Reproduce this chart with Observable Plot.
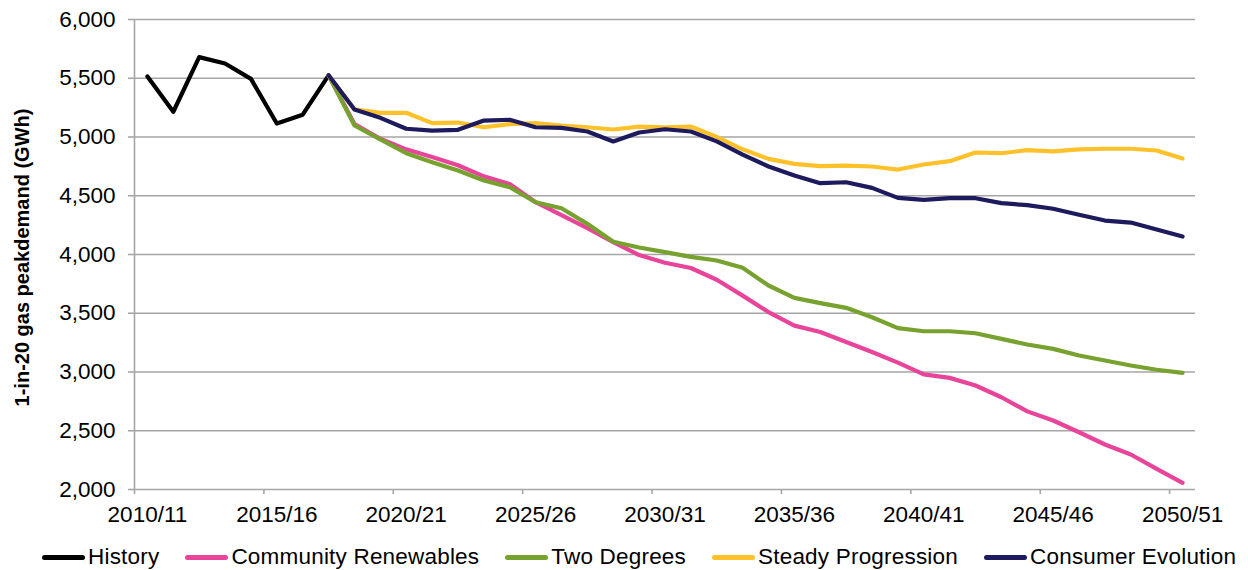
<!DOCTYPE html>
<html><head><meta charset="utf-8">
<script src="https://cdn.jsdelivr.net/npm/d3@7"></script>
<script src="https://cdn.jsdelivr.net/npm/@observablehq/plot@0.6"></script>
<style>
body{margin:0;background:#fff;font-family:"Liberation Sans",Arial,sans-serif;}
#chart{position:relative;width:1248px;height:570px;overflow:hidden}
#legend{position:absolute;left:42px;top:544px;display:flex;align-items:center;gap:26px;font-size:22.5px;letter-spacing:0.2px;line-height:26px;color:#000;white-space:nowrap}
.item{display:flex;align-items:center;}
.sw{width:43px;height:5px;border-radius:2.5px;margin-right:3px}
</style></head><body><div id="chart"></div>
<script>
const categories = ["2010/11","2011/12","2012/13","2013/14","2014/15","2015/16","2016/17","2017/18","2018/19","2019/20",
  "2020/21","2021/22","2022/23","2023/24","2024/25","2025/26","2026/27","2027/28","2028/29","2029/30",
  "2030/31","2031/32","2032/33","2033/34","2034/35","2035/36","2036/37","2037/38","2038/39","2039/40",
  "2040/41","2041/42","2042/43","2043/44","2044/45","2045/46","2046/47","2047/48","2048/49","2049/50","2050/51"];
const tickLabels = ["2010/11","2015/16","2020/21","2025/26","2030/31","2035/36","2040/41","2045/46","2050/51"];
const yTicks = [2000,2500,3000,3500,4000,4500,5000,5500,6000];

const seriesNames = ["History","Community Renewables","Two Degrees","Steady Progression","Consumer Evolution"];
const seriesColors = ["#000000","#E8449A","#77A22F","#FFC12A","#1E1A5E"];

// History: 2010/11 .. 2017/18
const history = [5515,5215,5680,5625,5495,5115,5190,5525];
// Scenarios: 2017/18 .. 2050/51
const communityRenewables = [5525,5110,4985,4895,4830,4760,4665,4600,4445,4335,4225,4105,3995,3930,3885,3785,3650,3510,3395,3340,3255,3170,3080,2980,2950,2885,2785,2665,2587,2487,2383,2298,2176,2057];
const twoDegrees = [5525,5098,4979,4862,4786,4715,4630,4573,4445,4393,4261,4108,4060,4020,3980,3949,3887,3736,3631,3586,3546,3466,3373,3347,3347,3330,3282,3234,3197,3140,3098,3055,3019,2993];
const steadyProgression = [5525,5235,5206,5206,5118,5123,5083,5110,5118,5098,5083,5064,5089,5083,5089,5000,4895,4814,4771,4752,4757,4749,4723,4766,4794,4868,4862,4888,4877,4894,4900,4900,4885,4817];
const consumerEvolution = [5525,5234,5163,5070,5055,5061,5140,5147,5083,5078,5047,4962,5038,5066,5047,4963,4850,4749,4672,4607,4615,4567,4482,4465,4479,4479,4437,4420,4389,4338,4289,4272,4213,4153];

const scenarioStart = categories.indexOf("2017/18");
function rows(values, start, name) {
  return values.map((v, k) => ({i: start + k, cat: categories[start + k], v, name}));
}
const seriesData = [
  rows(history, 0, seriesNames[0]),
  rows(communityRenewables, scenarioStart, seriesNames[1]),
  rows(twoDegrees, scenarioStart, seriesNames[2]),
  rows(steadyProgression, scenarioStart, seriesNames[3]),
  rows(consumerEvolution, scenarioStart, seriesNames[4])
];

const labelIdx = tickLabels.map(l => categories.indexOf(l));
const boundaries = labelIdx.map(i => i - 0.5);
const grid = "#a6a6a6";
const H = 536;

const plot = Plot.plot({
  width: 1248,
  height: H,
  marginLeft: 134,
  marginRight: 53,
  marginTop: 19,
  marginBottom: H - 489,
  style: {fontFamily: "'Liberation Sans', Arial, sans-serif", fontSize: "22px", background: "#fff"},
  x: {type: "linear", domain: [-0.5, categories.length - 0.5]},
  y: {domain: [2000, 6000]},
  marks: [
    Plot.ruleY(yTicks, {stroke: grid, strokeWidth: 1.6}),
    Plot.ruleX([-0.5], {stroke: grid, strokeWidth: 1.6}),
    Plot.axisY({ticks: yTicks, tickSize: 6, tickPadding: 13, tickFormat: d3.format(","), stroke: grid, strokeWidth: 1.6, fill: "#000", fontSize: 22.5, label: null}),
    Plot.axisX({ticks: labelIdx, tickSize: 0, tickPadding: 17, tickFormat: i => categories[i], fill: "#000", fontSize: 22.5, label: null}),
    Plot.axisX({ticks: boundaries, tickSize: 5, tickFormat: () => "", stroke: grid, strokeWidth: 1.6, label: null}),
    ...seriesData.map((d, k) => Plot.lineY(d, {x: "i", y: "v", stroke: seriesColors[k], strokeWidth: 4.2, strokeLinejoin: "round", strokeLinecap: "round"})),
    Plot.text(["1-in-20 gas peakdemand (GWh)"], {frameAnchor: "left", textAnchor: "middle", lineAnchor: "middle", dx: -112, dy: 3, rotate: -90, fontWeight: "bold", fontSize: 20, fill: "#000"})
  ]
});

const chart = document.getElementById("chart");
chart.appendChild(plot);
const legend = document.createElement("div");
legend.id = "legend";
seriesNames.forEach((n, k) => {
  const it = document.createElement("div"); it.className = "item";
  const sw = document.createElement("div"); sw.className = "sw"; sw.style.background = seriesColors[k];
  const t = document.createElement("span"); t.textContent = n;
  it.appendChild(sw); it.appendChild(t); legend.appendChild(it);
});
chart.appendChild(legend);
</script></body></html>
